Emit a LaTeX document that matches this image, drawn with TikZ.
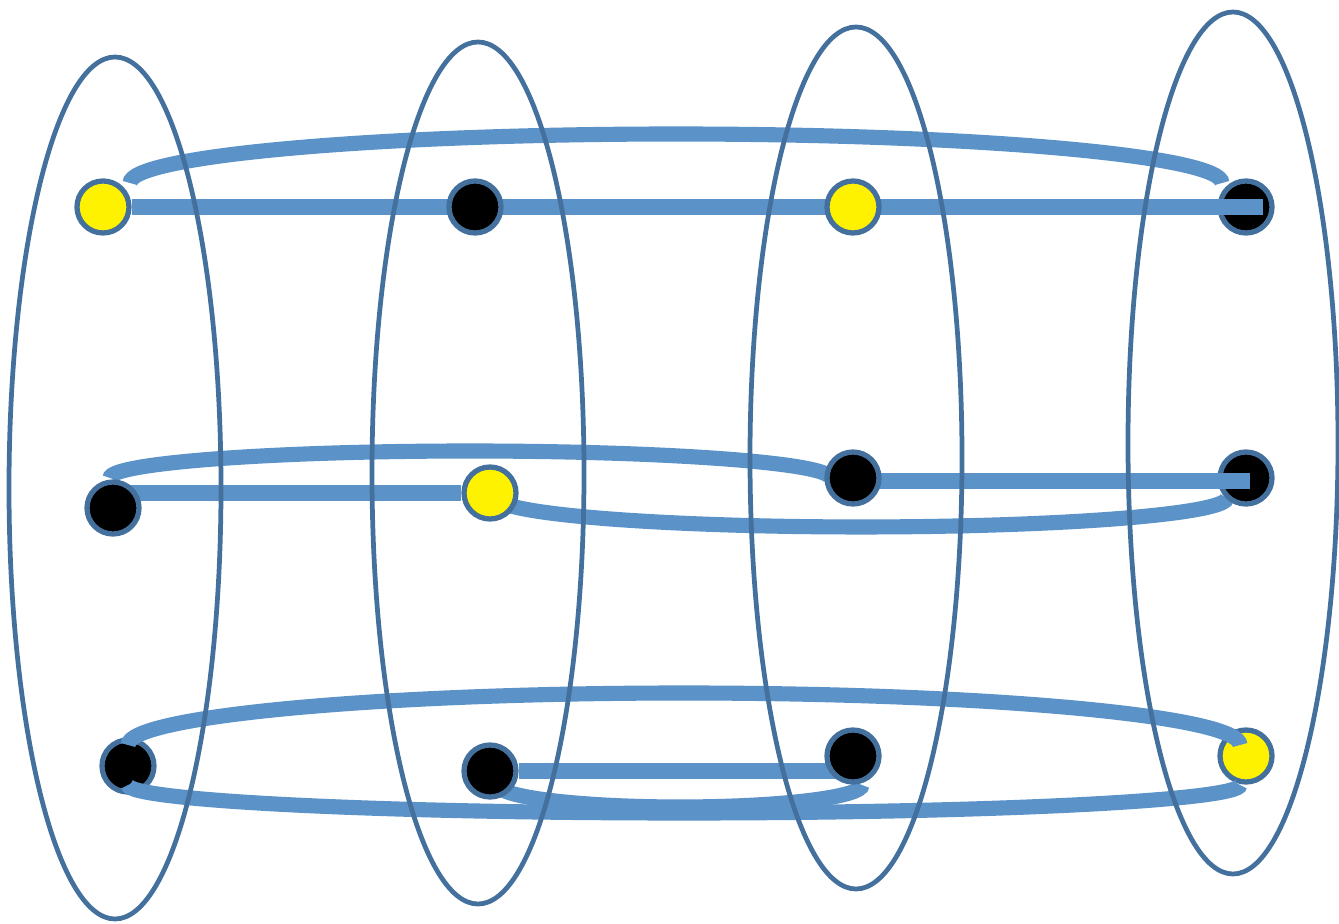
\documentclass[tikz,border=0pt]{standalone}
\usepackage{xcolor}
\definecolor{ringBlue}{HTML}{44709D}
\definecolor{barBlue}{HTML}{5B92C8}
\usepackage{tikz}
\pgfdeclarelayer{background}
\pgfdeclarelayer{foreground}
\pgfsetlayers{background,main,foreground}

\begin{document}
\begin{tikzpicture}[
    ring/.style={ringBlue, line width=1.35pt},
    bar/.style={barBlue, line width=4.3pt},
    dot/.style={circle, draw=ringBlue, line width=1.5pt, minimum size=0.52cm, inner sep=0pt}]
  \useasboundingbox (0,0) rectangle (13.39,9.23);

  % ---------------- the spots, row by row ----------------
  \foreach \n/\x/\y/\c in {q11/1.03/7.16/yellow, q12/4.75/7.16/black, q13/8.53/7.16/yellow, q14/12.46/7.16/black,
                           q21/1.13/4.15/black,  q22/4.90/4.30/yellow, q23/8.53/4.45/black,  q24/12.46/4.45/black,
                           q31/1.28/1.57/black,  q32/4.90/1.52/black,  q33/8.53/1.67/black,  q34/12.46/1.67/yellow}
    \node[dot, fill=\c] (\n) at (\x,\y) {};

  % free ends of the bars
  \coordinate (r1) at (12.63,7.16);
  \coordinate (r2) at (12.50,4.42);
  \coordinate (u1) at (1.30,7.40);
  \coordinate (u2) at (1.10,4.45);
  \coordinate (w2) at (5.025,4.20);
  \coordinate (u3) at (1.28,1.78);
  \coordinate (w3) at (1.28,1.38);
  \coordinate (v3) at (4.987,1.361);

  % ---------------- the bars under the spots ----------------
  \begin{pgfonlayer}{background}
    \draw[bar] (q11) -- (r1);
    \draw[bar] (u1) arc[start angle=180, end angle=0, x radius=5.46, y radius=0.49];
    \draw[bar] (q21 |- q22) -- (q22);
    \draw[bar] (q23 |- r2) -- (r2);
    \draw[bar] (u2) arc[start angle=180, end angle=0, x radius=3.60, y radius=0.27];
    \draw[bar] (w2) arc[start angle=190, end angle=360, x radius=3.65, y radius=0.29];
    \draw[bar] (q32) -- (q32 -| q33);
    \draw[bar] (v3) arc[start angle=185, end angle=360, x radius=1.82, y radius=0.22];
  \end{pgfonlayer}

  % ---------------- the bars over the spots ----------------
  \draw[bar] (q14.west) -- (r1);
  \draw[bar] (q24.west |- r2) -- (r2);
  \draw[bar] (u3) arc[start angle=180, end angle=0, x radius=5.56, y radius=0.52];
  \draw[bar] (w3) arc[start angle=180, end angle=360, x radius=5.56, y radius=0.28];

  % ---------------- the rings ----------------
  \begin{pgfonlayer}{foreground}
    \foreach \x/\y/\rx in {1.15/4.35/1.06, 4.78/4.50/1.06, 8.56/4.65/1.06, 12.33/4.80/1.05}
      \draw[ring] (\x,\y) ellipse [x radius=\rx, y radius=4.31];
  \end{pgfonlayer}
\end{tikzpicture}
\end{document}
